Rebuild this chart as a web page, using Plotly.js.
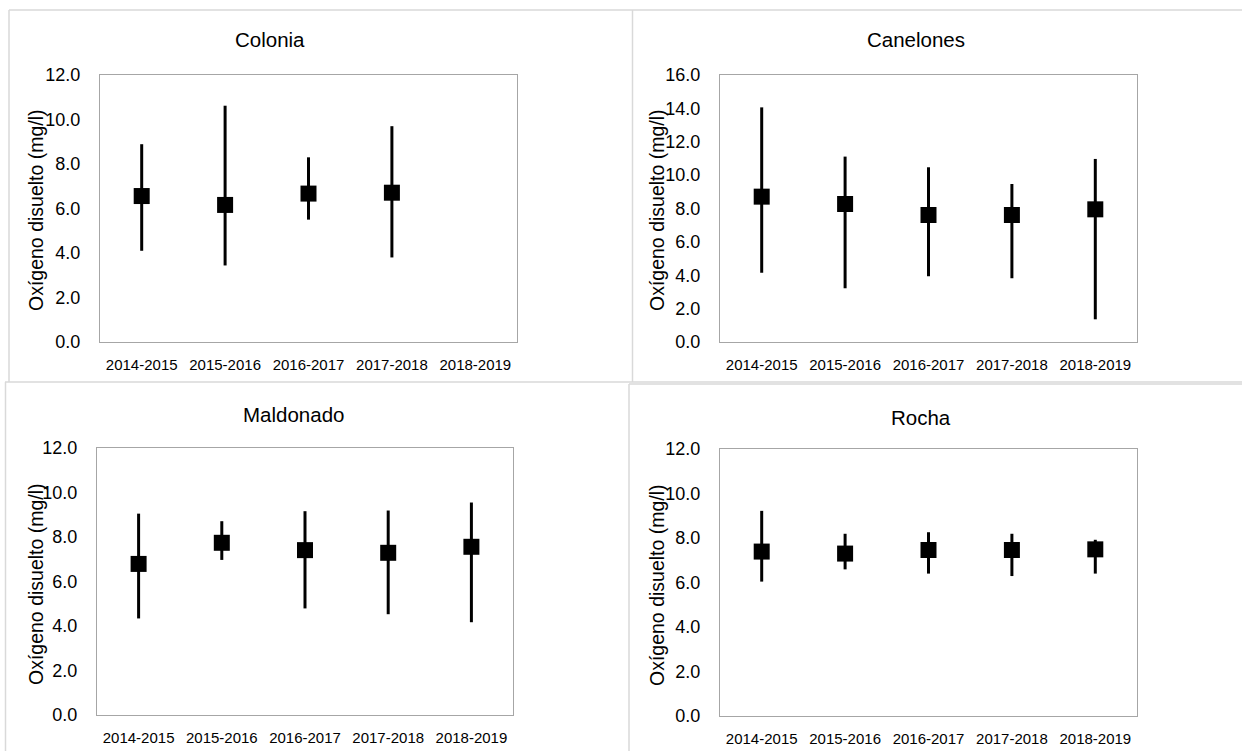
<!DOCTYPE html>
<html>
<head>
<meta charset="utf-8">
<script src="https://cdn.plot.ly/plotly-3.0.1.min.js"></script>
<style>
  html, body { margin: 0; padding: 0; background: #ffffff; }
  #chart { width: 1242px; height: 751px; }
</style>
</head>
<body>
<div id="chart"></div>
<script>
// Dissolved oxygen by season: mean (square) with min–max range (vertical line)
const seasons = ['2014-2015', '2015-2016', '2016-2017', '2017-2018', '2018-2019'];

const coloniaMean = [6.56, 6.16, 6.67, 6.71, null];
const coloniaMax  = [8.89, 10.62, 8.30, 9.70, null];
const coloniaMin  = [4.10, 3.44, 5.50, 3.80, null];

const canelonesMean = [8.71, 8.27, 7.61, 7.61, 7.95];
const canelonesMax  = [14.06, 11.11, 10.47, 9.47, 10.97];
const canelonesMin  = [4.15, 3.22, 3.94, 3.82, 1.36];

const maldonadoMean = [6.79, 7.74, 7.41, 7.29, 7.56];
const maldonadoMax  = [9.05, 8.71, 9.16, 9.19, 9.55];
const maldonadoMin  = [4.34, 6.97, 4.79, 4.53, 4.17];

const rochaMean = [7.39, 7.30, 7.46, 7.46, 7.49];
const rochaMax  = [9.22, 8.19, 8.26, 8.19, 7.92];
const rochaMin  = [6.04, 6.59, 6.40, 6.29, 6.40];

const panelTitles = ['Colonia', 'Canelones', 'Maldonado', 'Rocha'];
const yAxisTitle = 'Oxígeno disuelto (mg/l)';
const yMax = [12, 16, 12, 12];

const W = 1242, H = 751;
const px = v => v / W;
const py = v => 1 - v / H;
const FONT = 'Liberation Sans, Arial, sans-serif';

const series = [
  [coloniaMean, coloniaMax, coloniaMin],
  [canelonesMean, canelonesMax, canelonesMin],
  [maldonadoMean, maldonadoMax, maldonadoMin],
  [rochaMean, rochaMax, rochaMin]
];

// plot-area boxes in pixels: [left, top, right, bottom]
const boxes = [
  [100, 75, 517, 342],
  [720, 75, 1137, 342],
  [97, 448, 513, 715],
  [720, 449, 1137, 716]
];

const traces = series.map((s, i) => {
  const [mean, hi, lo] = s;
  const suffix = i === 0 ? '' : String(i + 1);
  return {
    type: 'scatter',
    mode: 'markers',
    x: seasons,
    y: mean,
    xaxis: 'x' + suffix,
    yaxis: 'y' + suffix,
    marker: { symbol: 'square', size: 16, color: '#000000' },
    error_y: {
      type: 'data',
      symmetric: false,
      array: mean.map((m, k) => m == null ? null : hi[k] - m),
      arrayminus: mean.map((m, k) => m == null ? null : m - lo[k]),
      color: '#000000',
      thickness: 3,
      width: 0
    },
    showlegend: false,
    hoverinfo: 'x+y'
  };
});

const layout = {
  width: W,
  height: H,
  margin: { l: 0, r: 0, t: 0, b: 0 },
  paper_bgcolor: '#ffffff',
  plot_bgcolor: '#ffffff',
  font: { family: FONT, color: '#000000', size: 17 },
  showlegend: false,
  shapes: [],
  annotations: []
};

boxes.forEach((b, i) => {
  const suffix = i === 0 ? '' : String(i + 1);
  layout['xaxis' + suffix] = {
    domain: [px(b[0]), px(b[2])],
    anchor: 'y' + suffix,
    type: 'category',
    categoryarray: seasons,
    range: [-0.5, 4.5],
    showline: true,
    mirror: true,
    linecolor: '#a6a6a6',
    linewidth: 1,
    showgrid: false,
    zeroline: false,
    ticks: '',
    ticklabelstandoff: 9,
    tickfont: { family: FONT, size: 15, color: '#000000' },
    fixedrange: true
  };
  layout['yaxis' + suffix] = {
    domain: [py(b[3]), py(b[1])],
    anchor: 'x' + suffix,
    range: [0, yMax[i]],
    dtick: 2,
    tick0: 0,
    tickformat: '.1f',
    showline: true,
    mirror: true,
    linecolor: '#a6a6a6',
    linewidth: 1,
    showgrid: false,
    zeroline: false,
    ticks: '',
    ticklabelstandoff: 15,
    tickfont: { family: FONT, size: 18, color: '#000000' },
    fixedrange: true
  };
});

// panel titles and rotated y-axis titles
const titlePos = [[270, 39], [916, 39], [293, 414], [921, 417]];
const yTitlePos = [[36, 210], [657, 210], [36, 584], [657, 585]];
panelTitles.forEach((t, i) => {
  layout.annotations.push({
    text: t, xref: 'paper', yref: 'paper',
    x: px(titlePos[i][0]), y: py(titlePos[i][1]),
    xanchor: 'center', yanchor: 'middle', showarrow: false,
    font: { family: FONT, size: 20.5, color: '#000000' }
  });
  layout.annotations.push({
    text: yAxisTitle, xref: 'paper', yref: 'paper',
    x: px(yTitlePos[i][0]), y: py(yTitlePos[i][1]),
    xanchor: 'center', yanchor: 'middle', showarrow: false,
    textangle: -90,
    font: { family: FONT, size: 19.5, color: '#000000' }
  });
});

// light outer frames around each chart
const frameLines = [
  [9, 10, 1242, 10],
  [9, 10, 9, 382],
  [632.5, 10, 632.5, 382],
  [5, 382, 1242, 382],
  [5.5, 382, 5.5, 751],
  [629, 384, 629, 751],
  [629, 384, 1242, 384]
];
frameLines.forEach(l => {
  layout.shapes.push({
    type: 'line', xref: 'paper', yref: 'paper',
    x0: px(l[0]), y0: py(l[1]), x1: px(l[2]), y1: py(l[3]),
    line: { color: '#d9d9d9', width: 1.5 },
    layer: 'below'
  });
});

Plotly.newPlot('chart', traces, layout, { staticPlot: true, displayModeBar: false });
</script>
</body>
</html>
